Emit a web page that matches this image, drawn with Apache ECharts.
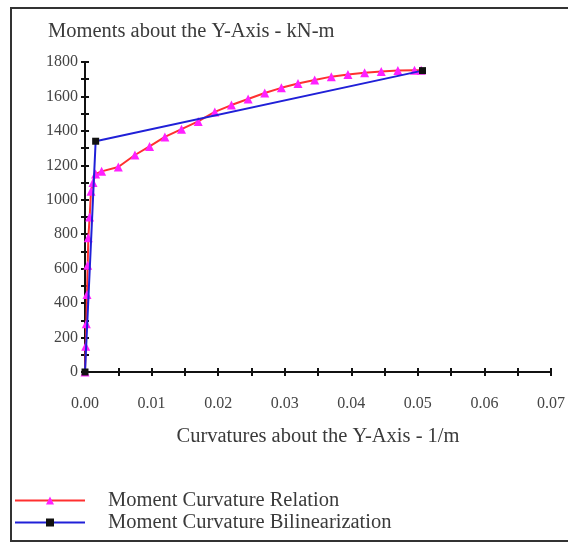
<!DOCTYPE html>
<html><head><meta charset="utf-8">
<script src="https://cdn.jsdelivr.net/npm/echarts@6/dist/echarts.min.js"></script>
<style>html,body{margin:0;padding:0;background:#fff}#c{width:568px;height:544px}</style>
</head><body><div id="c"></div>
<script>
const xTickLabels = ['0.00','0.01','0.02','0.03','0.04','0.05','0.06','0.07'];
const yTickLabels = [0,200,400,600,800,1000,1200,1400,1600,1800];
const relCurv = [0,0.0001,0.0002,0.0003,0.0004,0.0005,0.0007,0.0009,0.0012,0.0016,0.0025,0.005,0.0075,0.0097,0.012,0.0145,0.017,0.0195,0.022,0.0245,0.027,0.0295,0.032,0.0345,0.037,0.0395,0.042,0.0445,0.047,0.0495,0.0505];
const relMom  = [0,150,280,450,620,780,900,1050,1100,1150,1165,1190,1260,1310,1365,1410,1455,1510,1550,1585,1620,1650,1675,1695,1715,1728,1738,1745,1750,1752,1752];
const bilCurv = [0,0.0016,0.0507];
const bilMom  = [0,1340,1750];
const names = ['Moment Curvature Relation','Moment Curvature Bilinearization'];

const zip = (a,b)=>a.map((v,i)=>[v,b[i]]);
const font = '"Liberation Serif","DejaVu Serif",serif';
const chart = echarts.init(document.getElementById('c'));
const xBase = {type:'value',min:0,max:0.07,interval:0.01,splitLine:{show:false}};
const yBase = {type:'value',min:0,max:1800,interval:200,splitLine:{show:false}};
const tk = {color:'#111',width:2};
chart.setOption({
  animation:false,
  grid:{left:85,right:15,top:62,bottom:172},
  title:{text:'Moments about the Y-Axis - kN-m',left:43,top:16,textStyle:{fontFamily:font,fontSize:20.5,fontWeight:'normal',color:'#3a3a3a'}},
  graphic:[{type:'rect',shape:{x:11,y:8,width:600,height:533},style:{fill:'none',stroke:'#333',lineWidth:2},silent:true}],
  legend:{orient:'vertical',left:9,top:485,itemWidth:70,itemHeight:10,itemGap:1,
    data:names,textStyle:{fontFamily:font,fontSize:20.5,color:'#3a3a3a',padding:[0,0,0,18]}},
  xAxis:[
    Object.assign({},xBase,{
      name:'Curvatures about the Y-Axis - 1/m',nameLocation:'middle',nameGap:54,
      nameTextStyle:{fontFamily:font,fontSize:20.5,color:'#3a3a3a'},
      axisLine:{lineStyle:tk},
      axisTick:{show:true,length:4,lineStyle:tk},
      minorTick:{show:true,splitNumber:2,length:4,lineStyle:tk},
      axisLabel:{fontFamily:font,fontSize:16,color:'#444',margin:24,formatter:(v)=>xTickLabels[Math.round(v*100)]}
    }),
    Object.assign({},xBase,{position:'bottom',
      axisLine:{show:false},axisLabel:{show:false},
      axisTick:{show:true,inside:true,length:4,lineStyle:tk},
      minorTick:{show:true,splitNumber:2,length:4,lineStyle:tk}})
  ],
  yAxis:[
    Object.assign({},yBase,{
      axisLine:{show:true,lineStyle:tk},
      axisTick:{show:true,length:4,lineStyle:tk},
      minorTick:{show:true,splitNumber:2,length:4,lineStyle:tk},
      axisLabel:{fontFamily:font,fontSize:16,color:'#444',margin:7,formatter:(v)=>String(yTickLabels[Math.round(v/200)])}
    }),
    Object.assign({},yBase,{position:'left',
      axisLine:{show:false},axisLabel:{show:false},
      axisTick:{show:true,inside:true,length:4,lineStyle:tk},
      minorTick:{show:true,splitNumber:2,length:4,lineStyle:tk}})
  ],
  series:[
    {name:names[0],type:'line',data:zip(relCurv,relMom),symbol:'triangle',symbolSize:9,showSymbol:true,
      lineStyle:{color:'#ff3030',width:2},itemStyle:{color:'#ff20ff'},z:3},
    {name:names[1],type:'line',data:zip(bilCurv,bilMom),symbol:'rect',symbolSize:7,showSymbol:true,
      lineStyle:{color:'#2020d8',width:2},itemStyle:{color:'#111'},z:4}
  ]
});
</script></body></html>
